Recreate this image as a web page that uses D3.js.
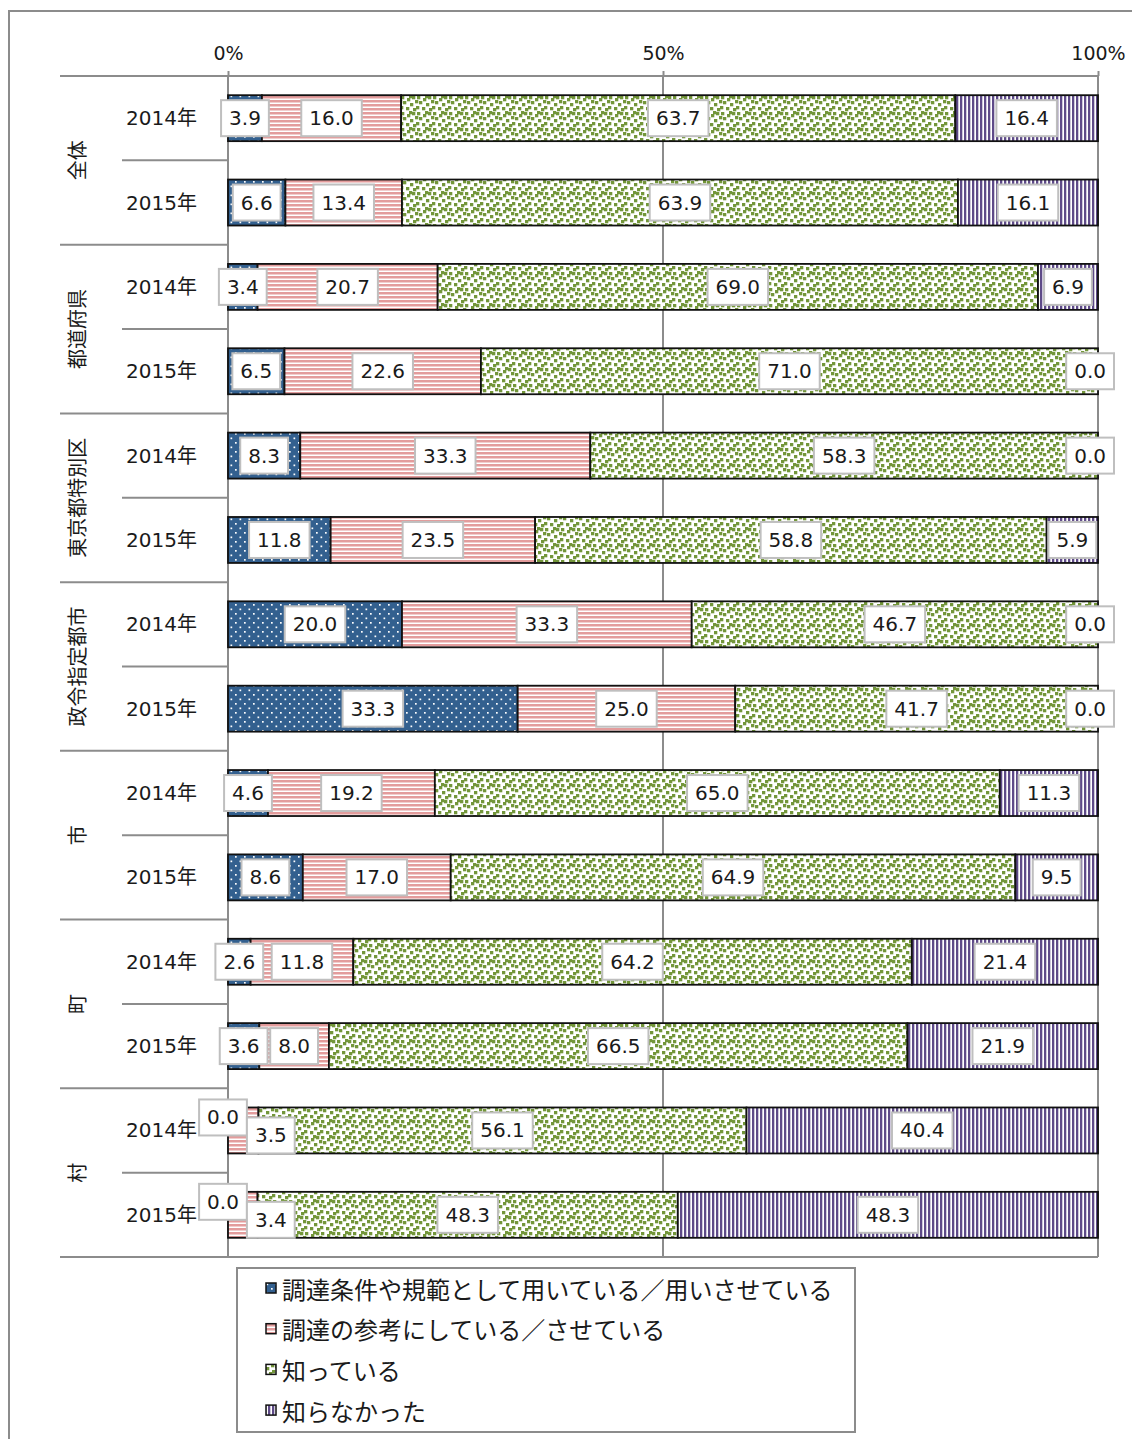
<!DOCTYPE html>
<html>
<head>
<meta charset="utf-8">
<script src="https://cdn.jsdelivr.net/npm/d3@7"></script>
<style>
body { margin:0; background:#fff; }
text { font-family:"DejaVu Sans","Noto Sans CJK JP",sans-serif; fill:#1a1a1a; }
.jp { font-family:"Noto Sans CJK JP",sans-serif; }
</style>
</head>
<body>
<svg class="chart"></svg>
<script>
var groups = ["全体", "都道府県", "東京都特別区", "政令指定都市", "市", "町", "村"];
var years = ["2014年", "2015年"];
var seriesNames = ["調達条件や規範として用いている／用いさせている",
                   "調達の参考にしている／させている",
                   "知っている",
                   "知らなかった"];
var tickLabels = ["0%", "50%", "100%"];

// per row: 全体14,全体15,都道府県14,... 村15
var usedVals    = [3.9, 6.6, 3.4, 6.5, 8.3, 11.8, 20.0, 33.3, 4.6, 8.6, 2.6, 3.6, 0.0, 0.0];
var refVals     = [16.0, 13.4, 20.7, 22.6, 33.3, 23.5, 33.3, 25.0, 19.2, 17.0, 11.8, 8.0, 3.5, 3.4];
var knownVals   = [63.7, 63.9, 69.0, 71.0, 58.3, 58.8, 46.7, 41.7, 65.0, 64.9, 64.2, 66.5, 56.1, 48.3];
var unknownVals = [16.4, 16.1, 6.9, 0.0, 0.0, 5.9, 0.0, 0.0, 11.3, 9.5, 21.4, 21.9, 40.4, 48.3];

var makeTranslateString = function(x,y)
{
    return "translate("+x+","+y+")";
}

var svg = d3.select(".chart").attr("width",1132).attr("height",1439);

// outer frame
svg.append("rect")
    .attr("x",9).attr("y",11).attr("width",1200).attr("height",1500)
    .attr("fill","none").attr("stroke","#8c8c8c").attr("stroke-width",2);

// patterns
var defs = svg.append("defs");

var pBlue = defs.append("pattern").attr("id","pat0").attr("patternUnits","userSpaceOnUse")
    .attr("width",9).attr("height",9);
pBlue.append("rect").attr("width",9).attr("height",9).attr("fill","#33608f");
pBlue.append("rect").attr("x",1).attr("y",1).attr("width",1.7).attr("height",1.7).attr("fill","#fff");
pBlue.append("rect").attr("x",5.5).attr("y",5.5).attr("width",1.7).attr("height",1.7).attr("fill","#fff");

var pPink = defs.append("pattern").attr("id","pat1").attr("patternUnits","userSpaceOnUse")
    .attr("width",4).attr("height",4);
pPink.append("rect").attr("width",4).attr("height",4).attr("fill","#fff");
pPink.append("rect").attr("y",0).attr("width",4).attr("height",2.5).attr("fill","#e39c9c");

var pGreen = defs.append("pattern").attr("id","pat2").attr("patternUnits","userSpaceOnUse")
    .attr("width",16).attr("height",16);
pGreen.append("rect").attr("width",16).attr("height",16).attr("fill","#fff");
[[1,0],[7,2],[12,0],[3,5],[10,7],[0,10],[6,11],[13,12],[9,15],[15,4]].forEach(function(p){
    pGreen.append("rect").attr("x",p[0]).attr("y",p[1]).attr("width",3.3).attr("height",3.3).attr("fill","#73963a");
});
[[9,-1],[-1,4],[-3,12]].forEach(function(p){
    pGreen.append("rect").attr("x",p[0]).attr("y",p[1]).attr("width",3.3).attr("height",3.3).attr("fill","#73963a");
});

var pPurple = defs.append("pattern").attr("id","pat3").attr("patternUnits","userSpaceOnUse")
    .attr("width",4).attr("height",4);
pPurple.append("rect").attr("width",4).attr("height",4).attr("fill","#fff");
pPurple.append("rect").attr("x",0).attr("width",2.3).attr("height",4).attr("fill","#5e4a88");

// data table
var rows = [];
groups.forEach(function(g,gi){
    years.forEach(function(yr,yi){
        var i = gi*2+yi;
        rows.push({key:g+yr, group:g, year:yr,
                   s0:usedVals[i], s1:refVals[i], s2:knownVals[i], s3:unknownVals[i]});
    });
});

var keys = ["s0","s1","s2","s3"];
var series = d3.stack().keys(keys).offset(d3.stackOffsetExpand)(rows);

var plot = {left:228, right:1098, top:76, bottom:1257};

var xScale = d3.scaleLinear().domain([0,1]).range([plot.left, plot.right]);
var yScale = d3.scaleBand().domain(rows.map(function(d){return d.key;}))
    .range([plot.top, plot.bottom]).paddingInner(0.455).paddingOuter(0.2275);
var step = yScale.step();

// grid lines
var grid = svg.append("g");
[0.5,1].forEach(function(v){
    grid.append("line").attr("x1",xScale(v)).attr("x2",xScale(v))
        .attr("y1",plot.top).attr("y2",plot.bottom)
        .attr("stroke","#8c8c8c").attr("stroke-width",2);
});

// category separators
var sep = svg.append("g").attr("stroke","#8c8c8c").attr("stroke-width",2);
for (var k=1;k<groups.length;k++)
{
    sep.append("line").attr("x1",60).attr("x2",plot.left)
        .attr("y1",plot.top+k*2*step).attr("y2",plot.top+k*2*step);
}
for (var k=0;k<groups.length;k++)
{
    sep.append("line").attr("x1",122).attr("x2",plot.left)
        .attr("y1",plot.top+(2*k+1)*step).attr("y2",plot.top+(2*k+1)*step);
}
sep.append("line").attr("x1",60).attr("x2",plot.right).attr("y1",plot.bottom).attr("y2",plot.bottom);
sep.append("line").attr("x1",plot.left).attr("x2",plot.left).attr("y1",plot.top).attr("y2",plot.bottom);

// top axis
var xAxis = d3.axisTop(xScale).tickValues([0,0.5,1])
    .tickFormat(function(d,i){return tickLabels[i];}).tickSize(5).tickPadding(11);
var ax = svg.append("g").attr("transform",makeTranslateString(0,plot.top)).call(xAxis);
ax.select(".domain").remove();
ax.append("line").attr("x1",60).attr("x2",plot.right).attr("stroke","#8c8c8c").attr("stroke-width",2);
ax.selectAll(".tick line").attr("stroke","#8c8c8c").attr("stroke-width",2);
ax.selectAll(".tick text").attr("font-size",19).attr("fill","#1a1a1a")
    .style("font-family","'DejaVu Sans',sans-serif");

// bars
var bars = svg.append("g");
series.forEach(function(s,si){
    bars.append("g").selectAll("rect")
        .data(s)
        .enter()
        .append("rect")
        .attr("x",function(d){return xScale(d[0]);})
        .attr("y",function(d){return yScale(d.data.key);})
        .attr("width",function(d){return xScale(d[1])-xScale(d[0]);})
        .attr("height",yScale.bandwidth())
        .attr("fill","url(#pat"+si+")")
        .attr("stroke","#111")
        .attr("stroke-width",1.8);
});

// data labels
var labels = svg.append("g");
rows.forEach(function(r,ri){
    var cy = yScale(r.key)+yScale.bandwidth()/2;
    var boxes = [];
    series.forEach(function(s,si){
        var d = s[ri];
        var v = r[keys[si]];
        var g = labels.append("g");
        var t = g.append("text").text(v.toFixed(1)).attr("font-size",20)
            .attr("text-anchor","middle").attr("dominant-baseline","central");
        var w = t.node().getComputedTextLength()+16;
        var cx = (xScale(d[0])+xScale(d[1]))/2;
        if (cx + w/2 > plot.right + 16) cx = plot.right + 16 - w/2;
        boxes.push({g:g, t:t, w:w, cx:cx, cy:cy, v:v});
    });
    for (var i=1;i<boxes.length;i++)
    {
        var a = boxes[i-1], b = boxes[i];
        if (a.cx + a.w/2 > b.cx - b.w/2)
        {
            a.cx -= 5; a.cy -= 13;
            b.cx = a.cx + a.w/2 + b.w/2; b.cy += 5;
        }
    }
    boxes.forEach(function(b){
        b.g.attr("transform",makeTranslateString(b.cx,b.cy));
        b.g.insert("rect","text").attr("x",-b.w/2).attr("y",-18).attr("width",b.w).attr("height",36)
            .attr("fill","#fff").attr("stroke","#bfbfbf").attr("stroke-width",2);
    });
});

// category labels
var cats = svg.append("g");
rows.forEach(function(r){
    cats.append("text").text(r.year)
        .attr("x",197).attr("y",yScale(r.key)+yScale.bandwidth()/2)
        .attr("text-anchor","end").attr("dominant-baseline","central")
        .attr("font-size",20);
});
groups.forEach(function(g,gi){
    var cy = plot.top + (2*gi+1)*step;
    cats.append("g").attr("transform",makeTranslateString(76,cy))
        .append("text").text(g).classed("jp",true)
        .attr("transform","rotate(-90)")
        .attr("text-anchor","middle").attr("dominant-baseline","central")
        .attr("font-size",20);
});

// legend
var legend = svg.append("g");
legend.append("rect").attr("x",237).attr("y",1268).attr("width",618).attr("height",164)
    .attr("fill","#fff").attr("stroke","#8c8c8c").attr("stroke-width",2);
seriesNames.forEach(function(n,i){
    var cy = 1288 + i*40.7;
    legend.append("rect").attr("x",266).attr("y",cy-5).attr("width",10).attr("height",10)
        .attr("fill","url(#pat"+i+")").attr("stroke","#111").attr("stroke-width",1.5);
    legend.append("text").text(n).classed("jp",true).attr("x",282).attr("y",cy)
        .attr("dominant-baseline","central").attr("font-size",24);
});
</script>
</body>
</html>
